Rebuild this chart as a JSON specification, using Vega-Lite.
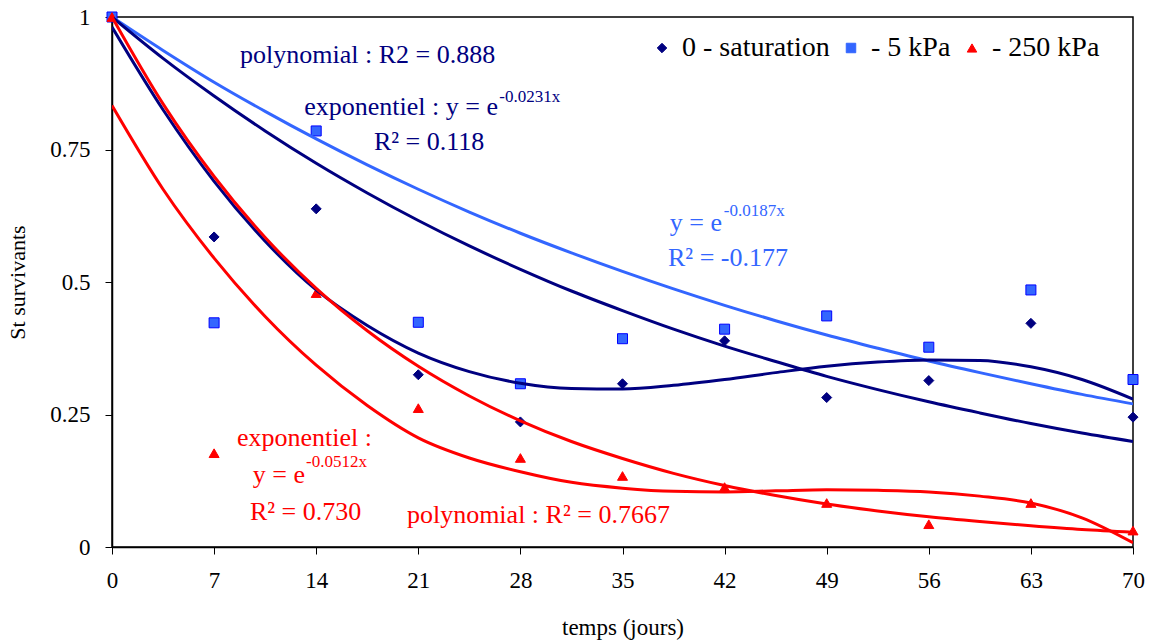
{
  "$schema": "https://vega.github.io/schema/vega-lite/v6.json",
  "width": 1021,
  "height": 530,
  "autosize": {"type": "none"},
  "padding": {"left": 112, "top": 17, "right": 19, "bottom": 93},
  "background": "white",
  "config": {
    "font": "Liberation Serif, Times New Roman, DejaVu Serif, serif",
    "view": {"stroke": "#000000", "strokeWidth": 1.5},
    "axis": {
      "grid": false,
      "domainColor": "#000000",
      "domainWidth": 1.5,
      "tickColor": "#000000",
      "tickWidth": 1,
      "tickSize": 7,
      "labelFont": "Liberation Serif, Times New Roman, DejaVu Serif, serif",
      "labelFontSize": 23,
      "labelColor": "#000000",
      "titleFont": "Liberation Serif, Times New Roman, DejaVu Serif, serif",
      "titleFontSize": 23,
      "titleFontWeight": "normal",
      "titleColor": "#000000"
    },
    "legend": {
      "labelFont": "Liberation Serif, Times New Roman, DejaVu Serif, serif",
      "labelFontSize": 28,
      "labelColor": "#000000"
    }
  },
  "datasets": {
    "points": [
      {"series": "0 - saturation", "day": 0, "value": 1},
      {"series": "0 - saturation", "day": 7, "value": 0.585},
      {"series": "0 - saturation", "day": 14, "value": 0.638},
      {"series": "0 - saturation", "day": 21, "value": 0.325},
      {"series": "0 - saturation", "day": 28, "value": 0.236},
      {"series": "0 - saturation", "day": 35, "value": 0.308},
      {"series": "0 - saturation", "day": 42, "value": 0.389},
      {"series": "0 - saturation", "day": 49, "value": 0.282},
      {"series": "0 - saturation", "day": 56, "value": 0.314},
      {"series": "0 - saturation", "day": 63, "value": 0.422},
      {"series": "0 - saturation", "day": 70, "value": 0.245},
      {"series": "- 5 kPa", "day": 0, "value": 1},
      {"series": "- 5 kPa", "day": 7, "value": 0.423},
      {"series": "- 5 kPa", "day": 14, "value": 0.785},
      {"series": "- 5 kPa", "day": 21, "value": 0.424},
      {"series": "- 5 kPa", "day": 28, "value": 0.308},
      {"series": "- 5 kPa", "day": 35, "value": 0.393},
      {"series": "- 5 kPa", "day": 42, "value": 0.411},
      {"series": "- 5 kPa", "day": 49, "value": 0.436},
      {"series": "- 5 kPa", "day": 56, "value": 0.377},
      {"series": "- 5 kPa", "day": 63, "value": 0.485},
      {"series": "- 5 kPa", "day": 70, "value": 0.316},
      {"series": "- 250 kPa", "day": 0, "value": 1},
      {"series": "- 250 kPa", "day": 7, "value": 0.177},
      {"series": "- 250 kPa", "day": 14, "value": 0.479},
      {"series": "- 250 kPa", "day": 21, "value": 0.262},
      {"series": "- 250 kPa", "day": 28, "value": 0.168},
      {"series": "- 250 kPa", "day": 35, "value": 0.134},
      {"series": "- 250 kPa", "day": 42, "value": 0.113},
      {"series": "- 250 kPa", "day": 49, "value": 0.083},
      {"series": "- 250 kPa", "day": 56, "value": 0.043},
      {"series": "- 250 kPa", "day": 63, "value": 0.083},
      {"series": "- 250 kPa", "day": 70, "value": 0.031}
    ],
    "curves": [
      {"series": "- 5 kPa", "fit": "exp5", "day": 0, "value": 1},
      {"series": "- 5 kPa", "fit": "exp5", "day": 3.5, "value": 0.937},
      {"series": "- 5 kPa", "fit": "exp5", "day": 7, "value": 0.877},
      {"series": "- 5 kPa", "fit": "exp5", "day": 10.5, "value": 0.822},
      {"series": "- 5 kPa", "fit": "exp5", "day": 14, "value": 0.770},
      {"series": "- 5 kPa", "fit": "exp5", "day": 17.5, "value": 0.721},
      {"series": "- 5 kPa", "fit": "exp5", "day": 21, "value": 0.675},
      {"series": "- 5 kPa", "fit": "exp5", "day": 24.5, "value": 0.632},
      {"series": "- 5 kPa", "fit": "exp5", "day": 28, "value": 0.592},
      {"series": "- 5 kPa", "fit": "exp5", "day": 31.5, "value": 0.555},
      {"series": "- 5 kPa", "fit": "exp5", "day": 35, "value": 0.520},
      {"series": "- 5 kPa", "fit": "exp5", "day": 38.5, "value": 0.487},
      {"series": "- 5 kPa", "fit": "exp5", "day": 42, "value": 0.456},
      {"series": "- 5 kPa", "fit": "exp5", "day": 45.5, "value": 0.427},
      {"series": "- 5 kPa", "fit": "exp5", "day": 49, "value": 0.400},
      {"series": "- 5 kPa", "fit": "exp5", "day": 52.5, "value": 0.375},
      {"series": "- 5 kPa", "fit": "exp5", "day": 56, "value": 0.351},
      {"series": "- 5 kPa", "fit": "exp5", "day": 59.5, "value": 0.329},
      {"series": "- 5 kPa", "fit": "exp5", "day": 63, "value": 0.308},
      {"series": "- 5 kPa", "fit": "exp5", "day": 66.5, "value": 0.288},
      {"series": "- 5 kPa", "fit": "exp5", "day": 70, "value": 0.270},
      {"series": "0 - saturation", "fit": "exp0", "day": 0, "value": 1},
      {"series": "0 - saturation", "fit": "exp0", "day": 3.5, "value": 0.922},
      {"series": "0 - saturation", "fit": "exp0", "day": 7, "value": 0.851},
      {"series": "0 - saturation", "fit": "exp0", "day": 10.5, "value": 0.785},
      {"series": "0 - saturation", "fit": "exp0", "day": 14, "value": 0.724},
      {"series": "0 - saturation", "fit": "exp0", "day": 17.5, "value": 0.668},
      {"series": "0 - saturation", "fit": "exp0", "day": 21, "value": 0.616},
      {"series": "0 - saturation", "fit": "exp0", "day": 24.5, "value": 0.568},
      {"series": "0 - saturation", "fit": "exp0", "day": 28, "value": 0.524},
      {"series": "0 - saturation", "fit": "exp0", "day": 31.5, "value": 0.483},
      {"series": "0 - saturation", "fit": "exp0", "day": 35, "value": 0.446},
      {"series": "0 - saturation", "fit": "exp0", "day": 38.5, "value": 0.411},
      {"series": "0 - saturation", "fit": "exp0", "day": 42, "value": 0.379},
      {"series": "0 - saturation", "fit": "exp0", "day": 45.5, "value": 0.350},
      {"series": "0 - saturation", "fit": "exp0", "day": 49, "value": 0.322},
      {"series": "0 - saturation", "fit": "exp0", "day": 52.5, "value": 0.297},
      {"series": "0 - saturation", "fit": "exp0", "day": 56, "value": 0.274},
      {"series": "0 - saturation", "fit": "exp0", "day": 59.5, "value": 0.253},
      {"series": "0 - saturation", "fit": "exp0", "day": 63, "value": 0.233},
      {"series": "0 - saturation", "fit": "exp0", "day": 66.5, "value": 0.215},
      {"series": "0 - saturation", "fit": "exp0", "day": 70, "value": 0.199},
      {"series": "0 - saturation", "fit": "poly0", "day": 0, "value": 0.981},
      {"series": "0 - saturation", "fit": "poly0", "day": 3.5, "value": 0.825},
      {"series": "0 - saturation", "fit": "poly0", "day": 7, "value": 0.690},
      {"series": "0 - saturation", "fit": "poly0", "day": 10.5, "value": 0.577},
      {"series": "0 - saturation", "fit": "poly0", "day": 14, "value": 0.485},
      {"series": "0 - saturation", "fit": "poly0", "day": 17.5, "value": 0.418},
      {"series": "0 - saturation", "fit": "poly0", "day": 21, "value": 0.366},
      {"series": "0 - saturation", "fit": "poly0", "day": 24.5, "value": 0.331},
      {"series": "0 - saturation", "fit": "poly0", "day": 28, "value": 0.309},
      {"series": "0 - saturation", "fit": "poly0", "day": 31.5, "value": 0.299},
      {"series": "0 - saturation", "fit": "poly0", "day": 35, "value": 0.298},
      {"series": "0 - saturation", "fit": "poly0", "day": 38.5, "value": 0.305},
      {"series": "0 - saturation", "fit": "poly0", "day": 42, "value": 0.316},
      {"series": "0 - saturation", "fit": "poly0", "day": 45.5, "value": 0.329},
      {"series": "0 - saturation", "fit": "poly0", "day": 49, "value": 0.341},
      {"series": "0 - saturation", "fit": "poly0", "day": 52.5, "value": 0.349},
      {"series": "0 - saturation", "fit": "poly0", "day": 56, "value": 0.353},
      {"series": "0 - saturation", "fit": "poly0", "day": 59.5, "value": 0.352},
      {"series": "0 - saturation", "fit": "poly0", "day": 63, "value": 0.340},
      {"series": "0 - saturation", "fit": "poly0", "day": 66.5, "value": 0.316},
      {"series": "0 - saturation", "fit": "poly0", "day": 70, "value": 0.279},
      {"series": "- 250 kPa", "fit": "exp250", "day": 0, "value": 1},
      {"series": "- 250 kPa", "fit": "exp250", "day": 3.5, "value": 0.836},
      {"series": "- 250 kPa", "fit": "exp250", "day": 7, "value": 0.699},
      {"series": "- 250 kPa", "fit": "exp250", "day": 10.5, "value": 0.584},
      {"series": "- 250 kPa", "fit": "exp250", "day": 14, "value": 0.488},
      {"series": "- 250 kPa", "fit": "exp250", "day": 17.5, "value": 0.408},
      {"series": "- 250 kPa", "fit": "exp250", "day": 21, "value": 0.341},
      {"series": "- 250 kPa", "fit": "exp250", "day": 24.5, "value": 0.285},
      {"series": "- 250 kPa", "fit": "exp250", "day": 28, "value": 0.238},
      {"series": "- 250 kPa", "fit": "exp250", "day": 31.5, "value": 0.199},
      {"series": "- 250 kPa", "fit": "exp250", "day": 35, "value": 0.167},
      {"series": "- 250 kPa", "fit": "exp250", "day": 38.5, "value": 0.139},
      {"series": "- 250 kPa", "fit": "exp250", "day": 42, "value": 0.116},
      {"series": "- 250 kPa", "fit": "exp250", "day": 45.5, "value": 0.097},
      {"series": "- 250 kPa", "fit": "exp250", "day": 49, "value": 0.081},
      {"series": "- 250 kPa", "fit": "exp250", "day": 52.5, "value": 0.068},
      {"series": "- 250 kPa", "fit": "exp250", "day": 56, "value": 0.057},
      {"series": "- 250 kPa", "fit": "exp250", "day": 59.5, "value": 0.048},
      {"series": "- 250 kPa", "fit": "exp250", "day": 63, "value": 0.040},
      {"series": "- 250 kPa", "fit": "exp250", "day": 66.5, "value": 0.033},
      {"series": "- 250 kPa", "fit": "exp250", "day": 70, "value": 0.028},
      {"series": "- 250 kPa", "fit": "poly250", "day": 0, "value": 0.833},
      {"series": "- 250 kPa", "fit": "poly250", "day": 3.5, "value": 0.675},
      {"series": "- 250 kPa", "fit": "poly250", "day": 7, "value": 0.545},
      {"series": "- 250 kPa", "fit": "poly250", "day": 10.5, "value": 0.435},
      {"series": "- 250 kPa", "fit": "poly250", "day": 14, "value": 0.343},
      {"series": "- 250 kPa", "fit": "poly250", "day": 17.5, "value": 0.267},
      {"series": "- 250 kPa", "fit": "poly250", "day": 21, "value": 0.206},
      {"series": "- 250 kPa", "fit": "poly250", "day": 24.5, "value": 0.168},
      {"series": "- 250 kPa", "fit": "poly250", "day": 28, "value": 0.142},
      {"series": "- 250 kPa", "fit": "poly250", "day": 31.5, "value": 0.122},
      {"series": "- 250 kPa", "fit": "poly250", "day": 35, "value": 0.111},
      {"series": "- 250 kPa", "fit": "poly250", "day": 38.5, "value": 0.105},
      {"series": "- 250 kPa", "fit": "poly250", "day": 42, "value": 0.104},
      {"series": "- 250 kPa", "fit": "poly250", "day": 45.5, "value": 0.106},
      {"series": "- 250 kPa", "fit": "poly250", "day": 49, "value": 0.108},
      {"series": "- 250 kPa", "fit": "poly250", "day": 52.5, "value": 0.107},
      {"series": "- 250 kPa", "fit": "poly250", "day": 56, "value": 0.104},
      {"series": "- 250 kPa", "fit": "poly250", "day": 59.5, "value": 0.096},
      {"series": "- 250 kPa", "fit": "poly250", "day": 63, "value": 0.083},
      {"series": "- 250 kPa", "fit": "poly250", "day": 66.5, "value": 0.055},
      {"series": "- 250 kPa", "fit": "poly250", "day": 70, "value": 0.008}
    ],
    "labels": [
      {"series": "0 - saturation", "text": "polynomial : R2 = 0.888", "day": 8.78, "value": 0.928},
      {"series": "0 - saturation", "text": "R² = 0.118", "day": 17.96, "value": 0.764},
      {"series": "- 5 kPa", "text": "R² = -0.177", "day": 38.12, "value": 0.545},
      {"series": "- 250 kPa", "text": "exponentiel :", "day": 8.57, "value": 0.206},
      {"series": "- 250 kPa", "text": "R² = 0.730", "day": 9.46, "value": 0.066},
      {"series": "- 250 kPa", "text": "polynomial : R² = 0.7667", "day": 20.22, "value": 0.06}
    ],
    "eLabels": [
      {"series": "0 - saturation", "text": "exponentiel : y = e", "day": 26.46, "value": 0.830},
      {"series": "- 5 kPa", "text": "y = e", "day": 41.82, "value": 0.611},
      {"series": "- 250 kPa", "text": "y = e", "day": 13.23, "value": 0.136}
    ],
    "sups": [
      {"series": "0 - saturation", "text": "-0.0231x", "day": 26.55, "value": 0.849},
      {"series": "- 5 kPa", "text": "-0.0187x", "day": 41.95, "value": 0.634},
      {"series": "- 250 kPa", "text": "-0.0512x", "day": 13.3, "value": 0.16}
    ]
  },
  "layer": [
    {
      "data": {"name": "points"},
      "mark": {"type": "point", "filled": true, "opacity": 1, "size": 100, "strokeWidth": 1},
      "encoding": {
        "x": {
          "field": "day", "type": "quantitative",
          "scale": {"domain": [0, 70], "nice": false, "zero": false},
          "axis": {"values": [0, 7, 14, 21, 28, 35, 42, 49, 56, 63, 70], "title": "temps (jours)", "labelPadding": 15, "titlePadding": 24, "labelFlush": false}
        },
        "y": {
          "field": "value", "type": "quantitative",
          "scale": {"domain": [0, 1], "nice": false},
          "axis": {"values": [0, 0.25, 0.5, 0.75, 1], "format": ".2~f", "title": "St survivants", "titleFontSize": 22, "labelPadding": 15, "titlePadding": 20}
        },
        "color": {
          "field": "series", "type": "nominal",
          "scale": {"domain": ["0 - saturation", "- 5 kPa", "- 250 kPa"], "range": ["#000080", "#3366FF", "#FF0000"]},
          "legend": {
            "title": null, "orient": "none", "direction": "horizontal",
            "legendX": 536, "legendY": 17, "padding": 0,
            "symbolSize": 90, "labelOffset": 6, "columnPadding": 7, "symbolStrokeWidth": 1
          }
        },
        "shape": {
          "field": "series", "type": "nominal",
          "scale": {"domain": ["0 - saturation", "- 5 kPa", "- 250 kPa"], "range": ["diamond", "square", "triangle-up"]}
        },
        "stroke": {
          "field": "series", "type": "nominal",
          "scale": {"domain": ["0 - saturation", "- 5 kPa", "- 250 kPa"], "range": ["#000080", "#0000FF", "#FF0000"]}
        }
      }
    },
    {
      "data": {"name": "curves"},
      "mark": {"type": "line", "interpolate": "monotone", "strokeWidth": 3, "clip": true},
      "encoding": {
        "x": {"field": "day", "type": "quantitative"},
        "y": {"field": "value", "type": "quantitative"},
        "detail": {"field": "fit", "type": "nominal"},
        "color": {"field": "series", "type": "nominal", "legend": null}
      }
    },
    {
      "data": {"name": "labels"},
      "mark": {"type": "text", "align": "left", "baseline": "middle", "fontSize": 26, "font": "Liberation Serif, Times New Roman, DejaVu Serif, serif"},
      "encoding": {
        "x": {"field": "day", "type": "quantitative"},
        "y": {"field": "value", "type": "quantitative"},
        "text": {"field": "text", "type": "nominal"},
        "color": {"field": "series", "type": "nominal", "legend": null}
      }
    },
    {
      "data": {"name": "eLabels"},
      "mark": {"type": "text", "align": "right", "baseline": "middle", "fontSize": 26, "font": "Liberation Serif, Times New Roman, DejaVu Serif, serif"},
      "encoding": {
        "x": {"field": "day", "type": "quantitative"},
        "y": {"field": "value", "type": "quantitative"},
        "text": {"field": "text", "type": "nominal"},
        "color": {"field": "series", "type": "nominal", "legend": null}
      }
    },
    {
      "data": {"name": "sups"},
      "mark": {"type": "text", "align": "left", "baseline": "middle", "fontSize": 17, "font": "Liberation Serif, Times New Roman, DejaVu Serif, serif"},
      "encoding": {
        "x": {"field": "day", "type": "quantitative"},
        "y": {"field": "value", "type": "quantitative"},
        "text": {"field": "text", "type": "nominal"},
        "color": {"field": "series", "type": "nominal", "legend": null}
      }
    }
  ]
}
